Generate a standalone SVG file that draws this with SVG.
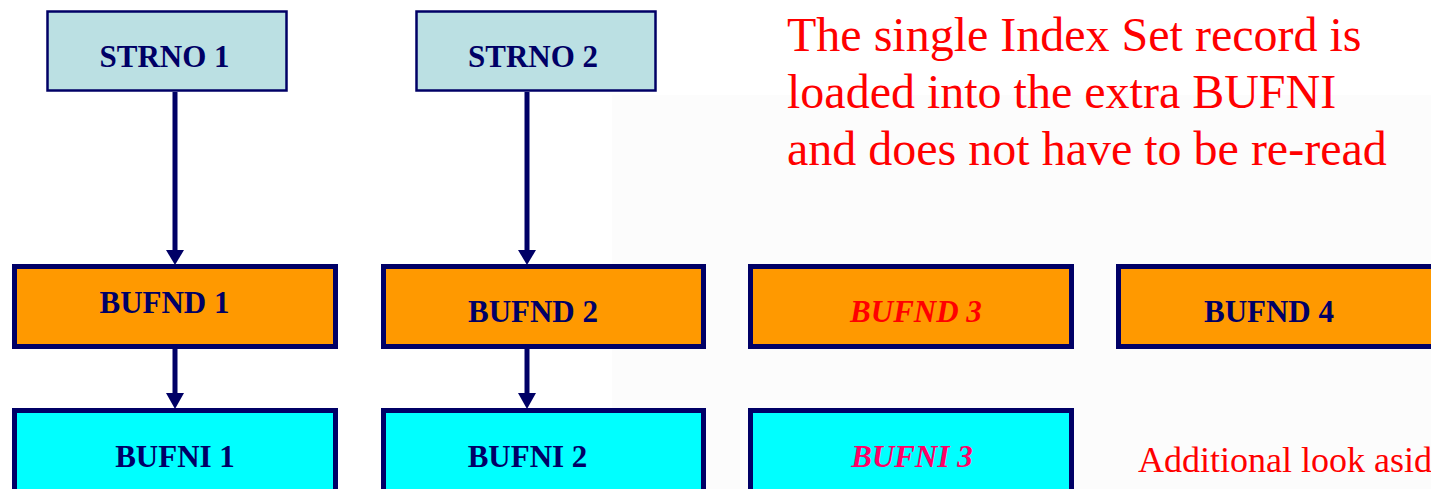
<svg xmlns="http://www.w3.org/2000/svg" width="1431" height="489" viewBox="0 0 1431 489">
  <style>
    .lbl { font-family: "Liberation Serif", "Times New Roman", serif; font-weight: bold; font-size: 31px; text-anchor: middle; fill: #000066; }
    .warn { fill: #FF0000; font-style: italic; }
    .warn2 { fill: #FF0066; font-style: italic; }
    .note { font-family: "Liberation Serif", "Times New Roman", serif; fill: #FF0000; }
    .strno { fill: #BBE0E3; stroke: #000066; stroke-width: 2.5; }
    .bufnd { fill: #FF9900; stroke: #000066; stroke-width: 5; }
    .bufni { fill: #00FFFF; stroke: #000066; stroke-width: 5; }
    .link { stroke: #000066; stroke-width: 5; fill: none; }
    .head { fill: #000066; }
  </style>

  <!-- backdrop -->
  <rect x="0" y="0" width="1431" height="489" fill="#FFFFFF"/>
  <rect x="612" y="95" width="819" height="394" fill="#FCFCFC"/>

  <!-- string numbers -->
  <g id="strno1">
    <rect class="strno" x="47.5" y="11.5" width="239" height="79"/>
    <text class="lbl" x="164.5" y="67">STRNO 1</text>
  </g>
  <g id="strno2">
    <rect class="strno" x="416.5" y="11.5" width="239" height="79"/>
    <text class="lbl" x="533" y="67">STRNO 2</text>
  </g>

  <!-- data buffers -->
  <g id="bufnd1">
    <rect class="bufnd" x="14.5" y="266.5" width="321" height="80"/>
    <text class="lbl" x="164.5" y="313">BUFND 1</text>
  </g>
  <g id="bufnd2">
    <rect class="bufnd" x="383.5" y="266.5" width="320" height="80"/>
    <text class="lbl" x="533" y="322">BUFND 2</text>
  </g>
  <g id="bufnd3">
    <rect class="bufnd" x="750.5" y="266.5" width="321" height="80"/>
    <text class="lbl warn" x="916" y="322">BUFND 3</text>
  </g>
  <g id="bufnd4">
    <rect class="bufnd" x="1118.5" y="266.5" width="321" height="80"/>
    <text class="lbl" x="1269" y="322">BUFND 4</text>
  </g>

  <!-- index buffers -->
  <g id="bufni1">
    <rect class="bufni" x="14.5" y="410.5" width="321" height="90"/>
    <text class="lbl" x="175" y="467">BUFNI 1</text>
  </g>
  <g id="bufni2">
    <rect class="bufni" x="383.5" y="410.5" width="320" height="90"/>
    <text class="lbl" x="527.5" y="467">BUFNI 2</text>
  </g>
  <g id="bufni3">
    <rect class="bufni" x="750.5" y="410.5" width="321" height="90"/>
    <text class="lbl warn2" x="912" y="467">BUFNI 3</text>
  </g>

  <!-- connectors -->
  <g id="connectors">
    <line class="link" x1="175" y1="92" x2="175" y2="252"/>
    <polygon class="head" points="166,250 184,250 175,265"/>
    <line class="link" x1="527" y1="92" x2="527" y2="252"/>
    <polygon class="head" points="518,250 536,250 527,265"/>
    <line class="link" x1="175" y1="349" x2="175" y2="395"/>
    <polygon class="head" points="166,393 184,393 175,409"/>
    <line class="link" x1="527" y1="349" x2="527" y2="395"/>
    <polygon class="head" points="518,393 536,393 527,409"/>
  </g>

  <!-- notes -->
  <g id="note-main" font-family="'Liberation Serif', 'Times New Roman', serif" fill="#FF0000" font-size="48">
    <text x="787" y="51">The single Index Set record is</text>
    <text x="787" y="108">loaded into the extra BUFNI</text>
    <text x="787" y="165">and does not have to be re-read</text>
  </g>
  <g id="note-aside" font-family="'Liberation Serif', 'Times New Roman', serif" fill="#FF0000" font-size="36">
    <text x="1138" y="472">Additional look aside</text>
  </g>
</svg>
